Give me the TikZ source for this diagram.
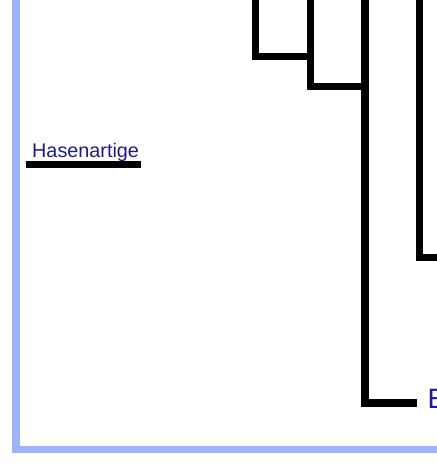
\documentclass[tikz,border=0pt]{standalone}
\usepackage{fontspec}
\setmainfont{Liberation Sans}
\definecolor{framebl}{RGB}{156,180,255}
\definecolor{labelbl}{RGB}{30,26,140}
\definecolor{ebl}{RGB}{26,26,168}
\begin{document}
\begin{tikzpicture}[x=1pt,y=-1pt,
  clade/.style={line width=7.5pt, line join=miter, black},
  frame/.style={line width=7.5pt, line join=miter, framebl},
  lbl/.style={inner sep=0pt, text=labelbl, font=\fontsize{19.8}{22}\selectfont},
  biglbl/.style={inner sep=0pt, text=ebl, font=\fontsize{28}{30}\selectfont}]
\useasboundingbox (0,0) rectangle (437,467);
\begin{scope}
\clip (0,0) rectangle (437,467);
% frame
\coordinate (ftop) at (15.75,-5);
\coordinate (fend) at (445,449.5);
\draw[frame] (ftop) |- (fend);
% clades
\coordinate (a1) at (255.5,-5);
\coordinate (a2) at (309,56.5);
\coordinate (b1) at (310.5,-5);
\coordinate (b2) at (363,86.5);
\coordinate (c1) at (365,-5);
\coordinate (c2) at (417,403);
\coordinate (d1) at (419.5,-5);
\coordinate (d2) at (445,257.5);
\draw[clade] (a1) |- (a2);
\draw[clade] (b1) |- (b2);
\draw[clade] (c1) |- (c2);
\draw[clade] (d1) |- (d2);
% label
\node[lbl, anchor=base west] (hase) at (32,157) {Hasenartige};
\coordinate (h1) at (26,164.5);
\coordinate (h2) at (141,164.5);
\draw[clade] (h1) -- (h2);
\node[biglbl, anchor=base west] (e) at (427.5,408) {E};
\end{scope}
\end{tikzpicture}
\end{document}
